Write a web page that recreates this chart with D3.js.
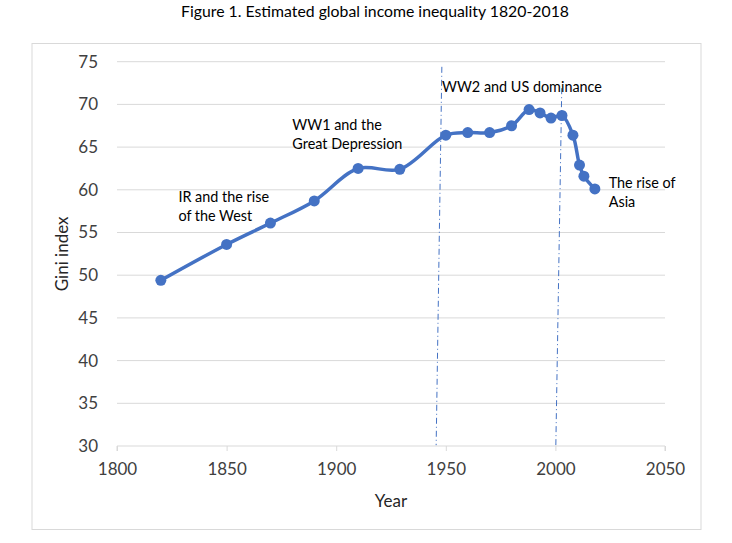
<!DOCTYPE html>
<html>
<head>
<meta charset="utf-8">
<script src="https://cdn.jsdelivr.net/npm/d3@7"></script>
<style>
  html, body { margin: 0; padding: 0; background: #fff; }
  svg { display: block; }
  text { font-family: Lato, "Open Sans", sans-serif; fill: #262626; }
</style>
</head>
<body>
<svg id="chart" width="732" height="543"></svg>
<script>
// ---- data ----
const years = [1820, 1850, 1870, 1890, 1910, 1929, 1950, 1960, 1970, 1980, 1988, 1993, 1998, 2003, 2008, 2011, 2013, 2018];
const gini  = [49.4, 53.6, 56.1, 58.7, 62.5, 62.4, 66.4, 66.7, 66.7, 67.5, 69.4, 69.0, 68.4, 68.7, 66.4, 62.9, 61.6, 60.1];
const xTicks = [1800, 1850, 1900, 1950, 2000, 2050];
const yTicks = [30, 35, 40, 45, 50, 55, 60, 65, 70, 75];
const titleText = "Figure 1. Estimated global income inequality 1820-2018";
const xTitle = "Year";
const yTitle = "Gini index";
// annotation labels: [x year, y value, lines]
const annotations = [
  { year: 1828, value: 58.6, lines: ["IR and the rise", "of the West"] },
  { year: 1880, value: 67.0, lines: ["WW1 and the", "Great Depression"] },
  { year: 1948.3, value: 71.5, lines: ["WW2 and US dominance"] },
  { year: 2024.3, value: 60.2, lines: ["The rise of", "Asia"] }
];
// dash-dot era separators (year/value endpoints)
const eraLines = [
  { x1: 1948.2, y1: 74.4, x2: 1945.6, y2: 30.1 },
  { x1: 2002.9, y1: 71.9, x2: 2000.2, y2: 30.1 }
];

// ---- layout ----
const svg = d3.select("#chart");
const m = { left: 117, right: 665, top: 61.7, bottom: 446 };
const x = d3.scaleLinear().domain([1800, 2050]).range([m.left, m.right]);
const y = d3.scaleLinear().domain([30, 75]).range([m.bottom, m.top]);
const blue = "#4472C4";

// outer border
svg.append("rect").attr("x", 32).attr("y", 43.5).attr("width", 669).attr("height", 486)
  .attr("fill", "none").attr("stroke", "#d9d9d9").attr("stroke-width", 1);

// title
svg.append("text").attr("x", 375).attr("y", 17).attr("text-anchor", "middle")
  .style("font-size", "15.8px").style("fill", "#000").text(titleText);

// gridlines
svg.append("g").selectAll("line").data(yTicks.filter(d => d !== 30)).join("line")
  .attr("x1", m.left).attr("x2", m.right)
  .attr("y1", d => y(d)).attr("y2", d => y(d))
  .attr("stroke", "#d9d9d9").attr("stroke-width", 1);

// x axis
const xAxis = svg.append("g").attr("transform", `translate(0,${m.bottom})`)
  .call(d3.axisBottom(x).tickValues(xTicks).tickFormat(d3.format("d")).tickSize(5).tickPadding(12));
xAxis.select(".domain").attr("stroke", "#d9d9d9").attr("d", `M${m.left},5V0H${m.right}V5`);
xAxis.selectAll(".tick line").attr("stroke", "#d9d9d9");
xAxis.selectAll(".tick text").style("font-size", "17px").style("fill", "#404040")
  .style("font-family", "Lato, sans-serif");

// y axis labels
const yAxis = svg.append("g").attr("transform", `translate(${m.left},0)`)
  .call(d3.axisLeft(y).tickValues(yTicks).tickSize(0).tickPadding(19));
yAxis.select(".domain").remove();
yAxis.selectAll(".tick text").style("font-size", "17px").style("fill", "#404040")
  .style("font-family", "Lato, sans-serif");

// axis titles
svg.append("text").attr("x", (m.left + m.right) / 2).attr("y", 507).attr("text-anchor", "middle")
  .style("font-size", "17px").style("fill", "#262626").text(xTitle);
svg.append("text").attr("transform", `translate(68,${(m.top + m.bottom) / 2}) rotate(-90)`)
  .attr("text-anchor", "middle").style("font-size", "17px").style("fill", "#262626").text(yTitle);

// era lines
svg.append("g").selectAll("line").data(eraLines).join("line")
  .attr("x1", d => x(d.x1)).attr("y1", d => y(d.y1))
  .attr("x2", d => x(d.x2)).attr("y2", d => y(d.y2))
  .attr("stroke", blue).attr("stroke-width", 1)
  .attr("stroke-dasharray", "6,3,1,3");

// series
const pts = years.map((yr, i) => ({ yr, v: gini[i] }));
const line = d3.line().x(d => x(d.yr)).y(d => y(d.v)).curve(d3.curveCatmullRom.alpha(0.5));
svg.append("path").datum(pts).attr("d", line)
  .attr("fill", "none").attr("stroke", blue).attr("stroke-width", 3.5)
  .attr("stroke-linejoin", "round").attr("stroke-linecap", "round");
svg.append("g").selectAll("circle").data(pts).join("circle")
  .attr("cx", d => x(d.yr)).attr("cy", d => y(d.v)).attr("r", 5.5)
  .attr("fill", blue);

// annotations
const ann = svg.append("g").selectAll("text").data(annotations).join("text")
  .attr("x", d => x(d.year)).attr("y", d => y(d.value))
  .style("font-size", "14.4px").style("fill", "#000");
ann.selectAll("tspan").data(d => d.lines.map(l => ({ l, x: x(d.year) }))).join("tspan")
  .attr("x", d => d.x).attr("dy", (d, i) => i === 0 ? 0 : 19).text(d => d.l);
</script>
</body>
</html>
